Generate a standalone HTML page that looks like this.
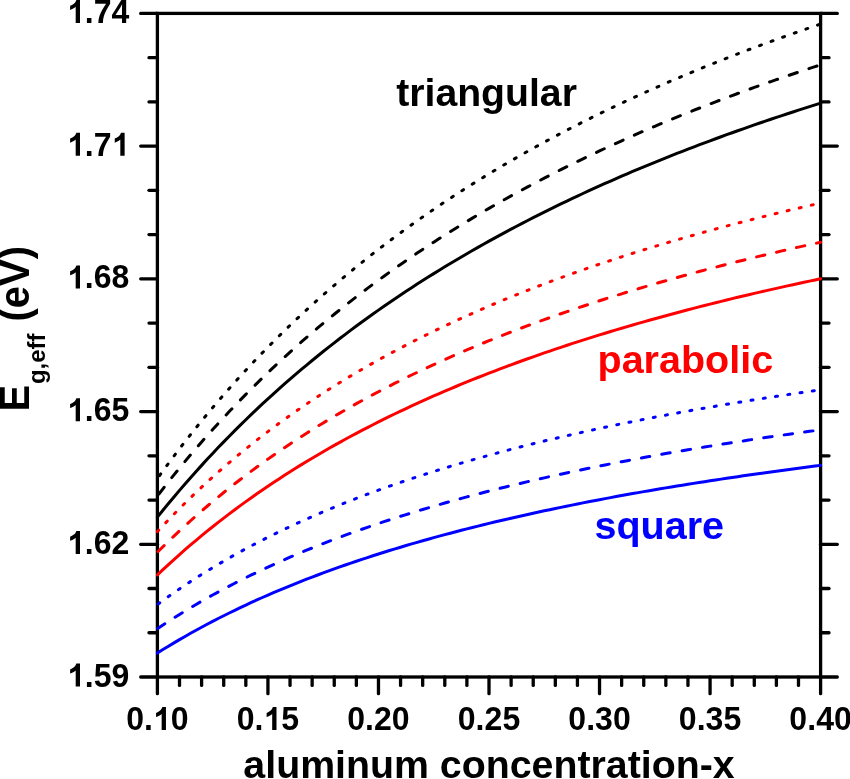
<!DOCTYPE html>
<html><head><meta charset="utf-8"><style>
html,body{margin:0;padding:0;background:#fff;}
body{width:850px;height:779px;overflow:hidden;}
svg{display:block;will-change:transform;}
text{font-family:"Liberation Sans",sans-serif;font-weight:bold;}
</style></head><body>
<svg width="850" height="779" viewBox="0 0 850 779">
<rect width="850" height="779" fill="#fff"/>
<g stroke="#000" stroke-width="3.3" stroke-linecap="round">
<line x1="157.40" y1="677.00" x2="157.40" y2="693.70"/>
<line x1="179.51" y1="677.00" x2="179.51" y2="685.40"/>
<line x1="201.61" y1="677.00" x2="201.61" y2="685.40"/>
<line x1="223.72" y1="677.00" x2="223.72" y2="685.40"/>
<line x1="245.83" y1="677.00" x2="245.83" y2="685.40"/>
<line x1="267.93" y1="677.00" x2="267.93" y2="693.70"/>
<line x1="290.04" y1="677.00" x2="290.04" y2="685.40"/>
<line x1="312.15" y1="677.00" x2="312.15" y2="685.40"/>
<line x1="334.25" y1="677.00" x2="334.25" y2="685.40"/>
<line x1="356.36" y1="677.00" x2="356.36" y2="685.40"/>
<line x1="378.47" y1="677.00" x2="378.47" y2="693.70"/>
<line x1="400.57" y1="677.00" x2="400.57" y2="685.40"/>
<line x1="422.68" y1="677.00" x2="422.68" y2="685.40"/>
<line x1="444.79" y1="677.00" x2="444.79" y2="685.40"/>
<line x1="466.89" y1="677.00" x2="466.89" y2="685.40"/>
<line x1="489.00" y1="677.00" x2="489.00" y2="693.70"/>
<line x1="511.11" y1="677.00" x2="511.11" y2="685.40"/>
<line x1="533.21" y1="677.00" x2="533.21" y2="685.40"/>
<line x1="555.32" y1="677.00" x2="555.32" y2="685.40"/>
<line x1="577.43" y1="677.00" x2="577.43" y2="685.40"/>
<line x1="599.53" y1="677.00" x2="599.53" y2="693.70"/>
<line x1="621.64" y1="677.00" x2="621.64" y2="685.40"/>
<line x1="643.75" y1="677.00" x2="643.75" y2="685.40"/>
<line x1="665.85" y1="677.00" x2="665.85" y2="685.40"/>
<line x1="687.96" y1="677.00" x2="687.96" y2="685.40"/>
<line x1="710.07" y1="677.00" x2="710.07" y2="693.70"/>
<line x1="732.17" y1="677.00" x2="732.17" y2="685.40"/>
<line x1="754.28" y1="677.00" x2="754.28" y2="685.40"/>
<line x1="776.39" y1="677.00" x2="776.39" y2="685.40"/>
<line x1="798.49" y1="677.00" x2="798.49" y2="685.40"/>
<line x1="820.60" y1="677.00" x2="820.60" y2="693.70"/>
<line x1="157.40" y1="677.00" x2="140.70" y2="677.00"/>
<line x1="820.60" y1="677.00" x2="837.30" y2="677.00"/>
<line x1="157.40" y1="632.76" x2="149.00" y2="632.76"/>
<line x1="820.60" y1="632.76" x2="829.00" y2="632.76"/>
<line x1="157.40" y1="588.52" x2="149.00" y2="588.52"/>
<line x1="820.60" y1="588.52" x2="829.00" y2="588.52"/>
<line x1="157.40" y1="544.28" x2="140.70" y2="544.28"/>
<line x1="820.60" y1="544.28" x2="837.30" y2="544.28"/>
<line x1="157.40" y1="500.04" x2="149.00" y2="500.04"/>
<line x1="820.60" y1="500.04" x2="829.00" y2="500.04"/>
<line x1="157.40" y1="455.80" x2="149.00" y2="455.80"/>
<line x1="820.60" y1="455.80" x2="829.00" y2="455.80"/>
<line x1="157.40" y1="411.56" x2="140.70" y2="411.56"/>
<line x1="820.60" y1="411.56" x2="837.30" y2="411.56"/>
<line x1="157.40" y1="367.32" x2="149.00" y2="367.32"/>
<line x1="820.60" y1="367.32" x2="829.00" y2="367.32"/>
<line x1="157.40" y1="323.08" x2="149.00" y2="323.08"/>
<line x1="820.60" y1="323.08" x2="829.00" y2="323.08"/>
<line x1="157.40" y1="278.84" x2="140.70" y2="278.84"/>
<line x1="820.60" y1="278.84" x2="837.30" y2="278.84"/>
<line x1="157.40" y1="234.60" x2="149.00" y2="234.60"/>
<line x1="820.60" y1="234.60" x2="829.00" y2="234.60"/>
<line x1="157.40" y1="190.36" x2="149.00" y2="190.36"/>
<line x1="820.60" y1="190.36" x2="829.00" y2="190.36"/>
<line x1="157.40" y1="146.12" x2="140.70" y2="146.12"/>
<line x1="820.60" y1="146.12" x2="837.30" y2="146.12"/>
<line x1="157.40" y1="101.88" x2="149.00" y2="101.88"/>
<line x1="820.60" y1="101.88" x2="829.00" y2="101.88"/>
<line x1="157.40" y1="57.64" x2="149.00" y2="57.64"/>
<line x1="820.60" y1="57.64" x2="829.00" y2="57.64"/>
<line x1="157.40" y1="13.40" x2="140.70" y2="13.40"/>
<line x1="820.60" y1="13.40" x2="837.30" y2="13.40"/>
</g>
<rect x="157.40" y="13.40" width="663.20" height="663.60" fill="none" stroke="#000" stroke-width="3.3"/>
<g fill="none" stroke-width="3" stroke-linecap="round" stroke-linejoin="round">
<path d="M157.40,478.53 L162.93,470.89 L168.45,463.38 L173.98,456.00 L179.51,448.74 L185.03,441.60 L190.56,434.58 L196.09,427.67 L201.61,420.87 L207.14,414.18 L212.67,407.60 L218.19,401.12 L223.72,394.75 L229.25,388.47 L234.77,382.29 L240.30,376.20 L245.83,370.20 L251.35,364.30 L256.88,358.48 L262.41,352.75 L267.93,347.10 L273.46,341.54 L278.99,336.06 L284.51,330.65 L290.04,325.32 L295.57,320.07 L301.09,314.89 L306.62,309.79 L312.15,304.75 L317.67,299.79 L323.20,294.89 L328.73,290.06 L334.25,285.29 L339.78,280.59 L345.31,275.95 L350.83,271.38 L356.36,266.86 L361.89,262.40 L367.41,258.00 L372.94,253.66 L378.47,249.37 L383.99,245.14 L389.52,240.96 L395.05,236.83 L400.57,232.76 L406.10,228.73 L411.63,224.76 L417.15,220.83 L422.68,216.95 L428.21,213.12 L433.73,209.33 L439.26,205.59 L444.79,201.90 L450.31,198.25 L455.84,194.64 L461.37,191.07 L466.89,187.55 L472.42,184.06 L477.95,180.62 L483.47,177.21 L489.00,173.85 L494.53,170.52 L500.05,167.23 L505.58,163.97 L511.11,160.75 L516.63,157.57 L522.16,154.42 L527.69,151.31 L533.21,148.23 L538.74,145.19 L544.27,142.17 L549.79,139.19 L555.32,136.24 L560.85,133.32 L566.37,130.44 L571.90,127.58 L577.43,124.75 L582.95,121.95 L588.48,119.18 L594.01,116.44 L599.53,113.73 L605.06,111.04 L610.59,108.39 L616.11,105.75 L621.64,103.15 L627.17,100.57 L632.69,98.02 L638.22,95.49 L643.75,92.98 L649.27,90.50 L654.80,88.05 L660.33,85.62 L665.85,83.21 L671.38,80.82 L676.91,78.46 L682.43,76.12 L687.96,73.80 L693.49,71.51 L699.01,69.23 L704.54,66.98 L710.07,64.75 L715.59,62.53 L721.12,60.34 L726.65,58.17 L732.17,56.02 L737.70,53.88 L743.23,51.77 L748.75,49.68 L754.28,47.60 L759.81,45.54 L765.33,43.50 L770.86,41.48 L776.39,39.48 L781.91,37.49 L787.44,35.52 L792.97,33.57 L798.49,31.64 L804.02,29.72 L809.55,27.82 L815.07,25.93 L820.60,24.06" stroke="#000" stroke-dasharray="2.0 10.290" stroke-dashoffset="-3.66"/>
<path d="M157.40,495.97 L162.93,488.83 L168.45,481.81 L173.98,474.90 L179.51,468.11 L185.03,461.42 L190.56,454.84 L196.09,448.37 L201.61,441.99 L207.14,435.72 L212.67,429.54 L218.19,423.46 L223.72,417.47 L229.25,411.57 L234.77,405.75 L240.30,400.03 L245.83,394.39 L251.35,388.83 L256.88,383.35 L262.41,377.95 L267.93,372.63 L273.46,367.38 L278.99,362.21 L284.51,357.11 L290.04,352.09 L295.57,347.13 L301.09,342.24 L306.62,337.41 L312.15,332.65 L317.67,327.96 L323.20,323.33 L328.73,318.76 L334.25,314.25 L339.78,309.80 L345.31,305.40 L350.83,301.07 L356.36,296.79 L361.89,292.56 L367.41,288.39 L372.94,284.27 L378.47,280.20 L383.99,276.19 L389.52,272.22 L395.05,268.30 L400.57,264.43 L406.10,260.61 L411.63,256.83 L417.15,253.10 L422.68,249.41 L428.21,245.77 L433.73,242.17 L439.26,238.61 L444.79,235.09 L450.31,231.61 L455.84,228.18 L461.37,224.78 L466.89,221.42 L472.42,218.10 L477.95,214.82 L483.47,211.57 L489.00,208.36 L494.53,205.19 L500.05,202.05 L505.58,198.94 L511.11,195.87 L516.63,192.83 L522.16,189.83 L527.69,186.86 L533.21,183.92 L538.74,181.01 L544.27,178.13 L549.79,175.28 L555.32,172.46 L560.85,169.67 L566.37,166.91 L571.90,164.17 L577.43,161.47 L582.95,158.79 L588.48,156.14 L594.01,153.52 L599.53,150.92 L605.06,148.35 L610.59,145.80 L616.11,143.28 L621.64,140.78 L627.17,138.31 L632.69,135.86 L638.22,133.44 L643.75,131.04 L649.27,128.66 L654.80,126.31 L660.33,123.97 L665.85,121.66 L671.38,119.38 L676.91,117.11 L682.43,114.86 L687.96,112.64 L693.49,110.43 L699.01,108.25 L704.54,106.08 L710.07,103.94 L715.59,101.81 L721.12,99.71 L726.65,97.62 L732.17,95.55 L737.70,93.50 L743.23,91.47 L748.75,89.45 L754.28,87.46 L759.81,85.48 L765.33,83.52 L770.86,81.57 L776.39,79.64 L781.91,77.73 L787.44,75.84 L792.97,73.96 L798.49,72.10 L804.02,70.25 L809.55,68.42 L815.07,66.60 L820.60,64.80" stroke="#000" stroke-dasharray="8.5 12.265" stroke-dashoffset="-2.49"/>
<path d="M157.40,517.11 L162.93,510.27 L168.45,503.54 L173.98,496.92 L179.51,490.40 L185.03,483.99 L190.56,477.69 L196.09,471.48 L201.61,465.37 L207.14,459.35 L212.67,453.43 L218.19,447.59 L223.72,441.85 L229.25,436.19 L234.77,430.61 L240.30,425.12 L245.83,419.71 L251.35,414.38 L256.88,409.13 L262.41,403.95 L267.93,398.84 L273.46,393.81 L278.99,388.85 L284.51,383.95 L290.04,379.13 L295.57,374.37 L301.09,369.68 L306.62,365.05 L312.15,360.48 L317.67,355.98 L323.20,351.53 L328.73,347.15 L334.25,342.82 L339.78,338.55 L345.31,334.33 L350.83,330.17 L356.36,326.06 L361.89,322.00 L367.41,318.00 L372.94,314.04 L378.47,310.14 L383.99,306.28 L389.52,302.47 L395.05,298.71 L400.57,294.99 L406.10,291.32 L411.63,287.70 L417.15,284.11 L422.68,280.57 L428.21,277.07 L433.73,273.61 L439.26,270.20 L444.79,266.82 L450.31,263.48 L455.84,260.18 L461.37,256.92 L466.89,253.69 L472.42,250.50 L477.95,247.35 L483.47,244.23 L489.00,241.15 L494.53,238.10 L500.05,235.08 L505.58,232.10 L511.11,229.15 L516.63,226.23 L522.16,223.34 L527.69,220.48 L533.21,217.66 L538.74,214.86 L544.27,212.10 L549.79,209.36 L555.32,206.65 L560.85,203.97 L566.37,201.31 L571.90,198.69 L577.43,196.09 L582.95,193.51 L588.48,190.97 L594.01,188.45 L599.53,185.95 L605.06,183.48 L610.59,181.03 L616.11,178.61 L621.64,176.21 L627.17,173.83 L632.69,171.48 L638.22,169.15 L643.75,166.84 L649.27,164.56 L654.80,162.29 L660.33,160.05 L665.85,157.83 L671.38,155.63 L676.91,153.45 L682.43,151.29 L687.96,149.15 L693.49,147.03 L699.01,144.93 L704.54,142.85 L710.07,140.79 L715.59,138.74 L721.12,136.72 L726.65,134.71 L732.17,132.72 L737.70,130.75 L743.23,128.80 L748.75,126.86 L754.28,124.94 L759.81,123.04 L765.33,121.15 L770.86,119.28 L776.39,117.43 L781.91,115.59 L787.44,113.77 L792.97,111.96 L798.49,110.17 L804.02,108.39 L809.55,106.63 L815.07,104.89 L820.60,103.15" stroke="#000" />
<path d="M157.40,531.58 L162.93,525.65 L168.45,519.83 L173.98,514.13 L179.51,508.53 L185.03,503.05 L190.56,497.66 L196.09,492.37 L201.61,487.18 L207.14,482.09 L212.67,477.08 L218.19,472.17 L223.72,467.34 L229.25,462.60 L234.77,457.94 L240.30,453.36 L245.83,448.85 L251.35,444.43 L256.88,440.08 L262.41,435.80 L267.93,431.59 L273.46,427.45 L278.99,423.38 L284.51,419.37 L290.04,415.43 L295.57,411.55 L301.09,407.73 L306.62,403.97 L312.15,400.27 L317.67,396.62 L323.20,393.04 L328.73,389.50 L334.25,386.02 L339.78,382.59 L345.31,379.21 L350.83,375.88 L356.36,372.60 L361.89,369.37 L367.41,366.18 L372.94,363.04 L378.47,359.95 L383.99,356.90 L389.52,353.89 L395.05,350.92 L400.57,347.99 L406.10,345.10 L411.63,342.25 L417.15,339.45 L422.68,336.67 L428.21,333.94 L433.73,331.24 L439.26,328.58 L444.79,325.95 L450.31,323.35 L455.84,320.79 L461.37,318.27 L466.89,315.77 L472.42,313.31 L477.95,310.87 L483.47,308.47 L489.00,306.10 L494.53,303.75 L500.05,301.44 L505.58,299.15 L511.11,296.89 L516.63,294.66 L522.16,292.45 L527.69,290.28 L533.21,288.12 L538.74,285.99 L544.27,283.89 L549.79,281.81 L555.32,279.76 L560.85,277.73 L566.37,275.72 L571.90,273.74 L577.43,271.77 L582.95,269.83 L588.48,267.91 L594.01,266.02 L599.53,264.14 L605.06,262.28 L610.59,260.45 L616.11,258.63 L621.64,256.84 L627.17,255.06 L632.69,253.30 L638.22,251.56 L643.75,249.84 L649.27,248.14 L654.80,246.45 L660.33,244.79 L665.85,243.14 L671.38,241.50 L676.91,239.89 L682.43,238.29 L687.96,236.71 L693.49,235.14 L699.01,233.59 L704.54,232.05 L710.07,230.53 L715.59,229.02 L721.12,227.53 L726.65,226.06 L732.17,224.59 L737.70,223.15 L743.23,221.71 L748.75,220.29 L754.28,218.89 L759.81,217.49 L765.33,216.11 L770.86,214.75 L776.39,213.39 L781.91,212.05 L787.44,210.72 L792.97,209.40 L798.49,208.10 L804.02,206.81 L809.55,205.53 L815.07,204.26 L820.60,203.00" stroke="#f00" stroke-dasharray="2.0 10.372" stroke-dashoffset="0.09"/>
<path d="M157.40,552.23 L162.93,546.73 L168.45,541.34 L173.98,536.05 L179.51,530.86 L185.03,525.76 L190.56,520.75 L196.09,515.84 L201.61,511.01 L207.14,506.26 L212.67,501.60 L218.19,497.02 L223.72,492.52 L229.25,488.09 L234.77,483.74 L240.30,479.47 L245.83,475.26 L251.35,471.12 L256.88,467.05 L262.41,463.04 L267.93,459.10 L273.46,455.23 L278.99,451.41 L284.51,447.65 L290.04,443.95 L295.57,440.31 L301.09,436.73 L306.62,433.20 L312.15,429.72 L317.67,426.29 L323.20,422.92 L328.73,419.59 L334.25,416.31 L339.78,413.09 L345.31,409.90 L350.83,406.77 L356.36,403.67 L361.89,400.63 L367.41,397.62 L372.94,394.66 L378.47,391.73 L383.99,388.85 L389.52,386.01 L395.05,383.20 L400.57,380.44 L406.10,377.71 L411.63,375.01 L417.15,372.35 L422.68,369.73 L428.21,367.14 L433.73,364.58 L439.26,362.06 L444.79,359.57 L450.31,357.11 L455.84,354.68 L461.37,352.29 L466.89,349.92 L472.42,347.58 L477.95,345.27 L483.47,342.99 L489.00,340.73 L494.53,338.51 L500.05,336.31 L505.58,334.13 L511.11,331.98 L516.63,329.86 L522.16,327.76 L527.69,325.69 L533.21,323.64 L538.74,321.62 L544.27,319.61 L549.79,317.63 L555.32,315.68 L560.85,313.74 L566.37,311.83 L571.90,309.94 L577.43,308.06 L582.95,306.21 L588.48,304.38 L594.01,302.57 L599.53,300.78 L605.06,299.01 L610.59,297.26 L616.11,295.52 L621.64,293.81 L627.17,292.11 L632.69,290.43 L638.22,288.77 L643.75,287.12 L649.27,285.50 L654.80,283.88 L660.33,282.29 L665.85,280.71 L671.38,279.15 L676.91,277.60 L682.43,276.07 L687.96,274.56 L693.49,273.05 L699.01,271.57 L704.54,270.10 L710.07,268.64 L715.59,267.20 L721.12,265.77 L726.65,264.35 L732.17,262.95 L737.70,261.56 L743.23,260.19 L748.75,258.82 L754.28,257.48 L759.81,256.14 L765.33,254.81 L770.86,253.50 L776.39,252.20 L781.91,250.91 L787.44,249.64 L792.97,248.37 L798.49,247.12 L804.02,245.88 L809.55,244.65 L815.07,243.43 L820.60,242.22" stroke="#f00" stroke-dasharray="8.5 11.977" stroke-dashoffset="-0.98"/>
<path d="M157.40,574.91 L162.93,569.69 L168.45,564.56 L173.98,559.52 L179.51,554.58 L185.03,549.73 L190.56,544.97 L196.09,540.29 L201.61,535.69 L207.14,531.17 L212.67,526.73 L218.19,522.37 L223.72,518.08 L229.25,513.86 L234.77,509.72 L240.30,505.64 L245.83,501.63 L251.35,497.68 L256.88,493.80 L262.41,489.98 L267.93,486.23 L273.46,482.53 L278.99,478.89 L284.51,475.30 L290.04,471.78 L295.57,468.30 L301.09,464.88 L306.62,461.51 L312.15,458.19 L317.67,454.92 L323.20,451.70 L328.73,448.53 L334.25,445.40 L339.78,442.32 L345.31,439.28 L350.83,436.28 L356.36,433.33 L361.89,430.42 L367.41,427.55 L372.94,424.71 L378.47,421.92 L383.99,419.17 L389.52,416.45 L395.05,413.77 L400.57,411.13 L406.10,408.52 L411.63,405.94 L417.15,403.40 L422.68,400.89 L428.21,398.42 L433.73,395.97 L439.26,393.56 L444.79,391.18 L450.31,388.83 L455.84,386.50 L461.37,384.21 L466.89,381.95 L472.42,379.71 L477.95,377.50 L483.47,375.32 L489.00,373.16 L494.53,371.03 L500.05,368.92 L505.58,366.84 L511.11,364.79 L516.63,362.76 L522.16,360.75 L527.69,358.76 L533.21,356.80 L538.74,354.86 L544.27,352.95 L549.79,351.05 L555.32,349.18 L560.85,347.32 L566.37,345.49 L571.90,343.68 L577.43,341.89 L582.95,340.11 L588.48,338.36 L594.01,336.63 L599.53,334.91 L605.06,333.21 L610.59,331.54 L616.11,329.87 L621.64,328.23 L627.17,326.60 L632.69,325.00 L638.22,323.40 L643.75,321.83 L649.27,320.27 L654.80,318.72 L660.33,317.19 L665.85,315.68 L671.38,314.18 L676.91,312.70 L682.43,311.23 L687.96,309.78 L693.49,308.34 L699.01,306.92 L704.54,305.51 L710.07,304.11 L715.59,302.73 L721.12,301.36 L726.65,300.00 L732.17,298.65 L737.70,297.32 L743.23,296.00 L748.75,294.70 L754.28,293.40 L759.81,292.12 L765.33,290.85 L770.86,289.59 L776.39,288.35 L781.91,287.11 L787.44,285.89 L792.97,284.67 L798.49,283.47 L804.02,282.28 L809.55,281.10 L815.07,279.93 L820.60,278.77" stroke="#f00" />
<path d="M157.40,604.55 L162.93,600.51 L168.45,596.56 L173.98,592.68 L179.51,588.89 L185.03,585.17 L190.56,581.53 L196.09,577.96 L201.61,574.46 L207.14,571.03 L212.67,567.67 L218.19,564.37 L223.72,561.13 L229.25,557.95 L234.77,554.83 L240.30,551.77 L245.83,548.77 L251.35,545.81 L256.88,542.92 L262.41,540.07 L267.93,537.27 L273.46,534.53 L278.99,531.82 L284.51,529.17 L290.04,526.56 L295.57,524.00 L301.09,521.48 L306.62,519.00 L312.15,516.56 L317.67,514.16 L323.20,511.80 L328.73,509.47 L334.25,507.19 L339.78,504.94 L345.31,502.72 L350.83,500.54 L356.36,498.40 L361.89,496.28 L367.41,494.20 L372.94,492.15 L378.47,490.13 L383.99,488.14 L389.52,486.18 L395.05,484.25 L400.57,482.35 L406.10,480.47 L411.63,478.62 L417.15,476.80 L422.68,475.00 L428.21,473.23 L433.73,471.48 L439.26,469.76 L444.79,468.06 L450.31,466.38 L455.84,464.73 L461.37,463.10 L466.89,461.49 L472.42,459.90 L477.95,458.33 L483.47,456.79 L489.00,455.26 L494.53,453.76 L500.05,452.27 L505.58,450.80 L511.11,449.35 L516.63,447.92 L522.16,446.50 L527.69,445.11 L533.21,443.73 L538.74,442.37 L544.27,441.02 L549.79,439.69 L555.32,438.38 L560.85,437.09 L566.37,435.80 L571.90,434.54 L577.43,433.29 L582.95,432.05 L588.48,430.83 L594.01,429.62 L599.53,428.43 L605.06,427.24 L610.59,426.08 L616.11,424.92 L621.64,423.78 L627.17,422.66 L632.69,421.54 L638.22,420.44 L643.75,419.35 L649.27,418.27 L654.80,417.20 L660.33,416.14 L665.85,415.10 L671.38,414.07 L676.91,413.04 L682.43,412.03 L687.96,411.03 L693.49,410.04 L699.01,409.06 L704.54,408.09 L710.07,407.13 L715.59,406.18 L721.12,405.24 L726.65,404.31 L732.17,403.39 L737.70,402.48 L743.23,401.58 L748.75,400.68 L754.28,399.80 L759.81,398.92 L765.33,398.05 L770.86,397.20 L776.39,396.34 L781.91,395.50 L787.44,394.67 L792.97,393.84 L798.49,393.02 L804.02,392.21 L809.55,391.41 L815.07,390.61 L820.60,389.83" stroke="#00f" stroke-dasharray="2.0 10.403" stroke-dashoffset="-0.99"/>
<path d="M157.40,628.74 L162.93,625.05 L168.45,621.44 L173.98,617.91 L179.51,614.44 L185.03,611.04 L190.56,607.71 L196.09,604.44 L201.61,601.24 L207.14,598.09 L212.67,595.01 L218.19,591.98 L223.72,589.01 L229.25,586.09 L234.77,583.23 L240.30,580.42 L245.83,577.66 L251.35,574.94 L256.88,572.28 L262.41,569.66 L267.93,567.08 L273.46,564.55 L278.99,562.06 L284.51,559.62 L290.04,557.21 L295.57,554.85 L301.09,552.52 L306.62,550.23 L312.15,547.98 L317.67,545.76 L323.20,543.58 L328.73,541.43 L334.25,539.32 L339.78,537.24 L345.31,535.19 L350.83,533.17 L356.36,531.18 L361.89,529.23 L367.41,527.30 L372.94,525.40 L378.47,523.53 L383.99,521.68 L389.52,519.86 L395.05,518.07 L400.57,516.30 L406.10,514.56 L411.63,512.85 L417.15,511.15 L422.68,509.48 L428.21,507.84 L433.73,506.21 L439.26,504.61 L444.79,503.03 L450.31,501.47 L455.84,499.94 L461.37,498.42 L466.89,496.92 L472.42,495.44 L477.95,493.98 L483.47,492.54 L489.00,491.12 L494.53,489.72 L500.05,488.33 L505.58,486.96 L511.11,485.61 L516.63,484.27 L522.16,482.96 L527.69,481.65 L533.21,480.37 L538.74,479.10 L544.27,477.84 L549.79,476.60 L555.32,475.37 L560.85,474.16 L566.37,472.96 L571.90,471.78 L577.43,470.61 L582.95,469.46 L588.48,468.31 L594.01,467.18 L599.53,466.07 L605.06,464.96 L610.59,463.87 L616.11,462.79 L621.64,461.72 L627.17,460.67 L632.69,459.62 L638.22,458.59 L643.75,457.57 L649.27,456.56 L654.80,455.56 L660.33,454.57 L665.85,453.59 L671.38,452.62 L676.91,451.66 L682.43,450.72 L687.96,449.78 L693.49,448.85 L699.01,447.93 L704.54,447.02 L710.07,446.12 L715.59,445.23 L721.12,444.35 L726.65,443.47 L732.17,442.61 L737.70,441.75 L743.23,440.91 L748.75,440.07 L754.28,439.24 L759.81,438.41 L765.33,437.60 L770.86,436.79 L776.39,435.99 L781.91,435.20 L787.44,434.42 L792.97,433.64 L798.49,432.87 L804.02,432.11 L809.55,431.35 L815.07,430.61 L820.60,429.86" stroke="#00f" stroke-dasharray="8.5 12.155" stroke-dashoffset="-0.41"/>
<path d="M157.40,653.05 L162.93,649.59 L168.45,646.20 L173.98,642.88 L179.51,639.62 L185.03,636.43 L190.56,633.30 L196.09,630.23 L201.61,627.22 L207.14,624.26 L212.67,621.36 L218.19,618.51 L223.72,615.72 L229.25,612.97 L234.77,610.28 L240.30,607.63 L245.83,605.03 L251.35,602.48 L256.88,599.97 L262.41,597.50 L267.93,595.08 L273.46,592.69 L278.99,590.35 L284.51,588.04 L290.04,585.78 L295.57,583.55 L301.09,581.35 L306.62,579.20 L312.15,577.07 L317.67,574.98 L323.20,572.93 L328.73,570.90 L334.25,568.91 L339.78,566.94 L345.31,565.01 L350.83,563.11 L356.36,561.23 L361.89,559.39 L367.41,557.57 L372.94,555.77 L378.47,554.01 L383.99,552.27 L389.52,550.55 L395.05,548.86 L400.57,547.19 L406.10,545.54 L411.63,543.92 L417.15,542.32 L422.68,540.75 L428.21,539.19 L433.73,537.66 L439.26,536.15 L444.79,534.65 L450.31,533.18 L455.84,531.72 L461.37,530.29 L466.89,528.87 L472.42,527.48 L477.95,526.10 L483.47,524.74 L489.00,523.39 L494.53,522.06 L500.05,520.75 L505.58,519.46 L511.11,518.18 L516.63,516.92 L522.16,515.67 L527.69,514.44 L533.21,513.22 L538.74,512.02 L544.27,510.83 L549.79,509.66 L555.32,508.50 L560.85,507.35 L566.37,506.22 L571.90,505.10 L577.43,503.99 L582.95,502.90 L588.48,501.82 L594.01,500.75 L599.53,499.69 L605.06,498.64 L610.59,497.61 L616.11,496.59 L621.64,495.58 L627.17,494.58 L632.69,493.59 L638.22,492.61 L643.75,491.64 L649.27,490.68 L654.80,489.74 L660.33,488.80 L665.85,487.87 L671.38,486.96 L676.91,486.05 L682.43,485.15 L687.96,484.26 L693.49,483.38 L699.01,482.51 L704.54,481.65 L710.07,480.80 L715.59,479.95 L721.12,479.11 L726.65,478.29 L732.17,477.47 L737.70,476.66 L743.23,475.85 L748.75,475.06 L754.28,474.27 L759.81,473.49 L765.33,472.72 L770.86,471.95 L776.39,471.19 L781.91,470.44 L787.44,469.70 L792.97,468.96 L798.49,468.23 L804.02,467.51 L809.55,466.79 L815.07,466.09 L820.60,465.38" stroke="#00f" />
</g>
<g fill="#000">
<path d="M 831 0 L 556 0 L 556 1030 C 460 940 340 875 201 835 L 201 1095 C 280 1120 360 1165 440 1230 C 520 1295 575 1380 600 1466 L 831 1466 Z" transform="translate(66.97,686.60) scale(0.015674,-0.015674)"/>
<text transform="translate(84.83,686.60) scale(1,1.04)" font-size="32.0">.</text>
<text transform="translate(93.75,686.60) scale(1,1.04)" font-size="32.0">5</text>
<text transform="translate(111.60,686.60) scale(1,1.04)" font-size="32.0">9</text>
<path d="M 831 0 L 556 0 L 556 1030 C 460 940 340 875 201 835 L 201 1095 C 280 1120 360 1165 440 1230 C 520 1295 575 1380 600 1466 L 831 1466 Z" transform="translate(66.97,553.88) scale(0.015674,-0.015674)"/>
<text transform="translate(84.83,553.88) scale(1,1.04)" font-size="32.0">.</text>
<text transform="translate(93.75,553.88) scale(1,1.04)" font-size="32.0">6</text>
<text transform="translate(111.60,553.88) scale(1,1.04)" font-size="32.0">2</text>
<path d="M 831 0 L 556 0 L 556 1030 C 460 940 340 875 201 835 L 201 1095 C 280 1120 360 1165 440 1230 C 520 1295 575 1380 600 1466 L 831 1466 Z" transform="translate(66.97,421.16) scale(0.015674,-0.015674)"/>
<text transform="translate(84.83,421.16) scale(1,1.04)" font-size="32.0">.</text>
<text transform="translate(93.75,421.16) scale(1,1.04)" font-size="32.0">6</text>
<text transform="translate(111.60,421.16) scale(1,1.04)" font-size="32.0">5</text>
<path d="M 831 0 L 556 0 L 556 1030 C 460 940 340 875 201 835 L 201 1095 C 280 1120 360 1165 440 1230 C 520 1295 575 1380 600 1466 L 831 1466 Z" transform="translate(66.97,288.44) scale(0.015674,-0.015674)"/>
<text transform="translate(84.83,288.44) scale(1,1.04)" font-size="32.0">.</text>
<text transform="translate(93.75,288.44) scale(1,1.04)" font-size="32.0">6</text>
<text transform="translate(111.60,288.44) scale(1,1.04)" font-size="32.0">8</text>
<path d="M 831 0 L 556 0 L 556 1030 C 460 940 340 875 201 835 L 201 1095 C 280 1120 360 1165 440 1230 C 520 1295 575 1380 600 1466 L 831 1466 Z" transform="translate(66.97,155.72) scale(0.015674,-0.015674)"/>
<text transform="translate(84.83,155.72) scale(1,1.04)" font-size="32.0">.</text>
<text transform="translate(93.75,155.72) scale(1,1.04)" font-size="32.0">7</text>
<path d="M 831 0 L 556 0 L 556 1030 C 460 940 340 875 201 835 L 201 1095 C 280 1120 360 1165 440 1230 C 520 1295 575 1380 600 1466 L 831 1466 Z" transform="translate(111.60,155.72) scale(0.015674,-0.015674)"/>
<path d="M 831 0 L 556 0 L 556 1030 C 460 940 340 875 201 835 L 201 1095 C 280 1120 360 1165 440 1230 C 520 1295 575 1380 600 1466 L 831 1466 Z" transform="translate(66.97,23.00) scale(0.015674,-0.015674)"/>
<text transform="translate(84.83,23.00) scale(1,1.04)" font-size="32.0">.</text>
<text transform="translate(93.75,23.00) scale(1,1.04)" font-size="32.0">7</text>
<text transform="translate(111.60,23.00) scale(1,1.04)" font-size="32.0">4</text>
<text transform="translate(126.16,730.10) scale(1,1.04)" font-size="32.0">0</text>
<text transform="translate(144.01,730.10) scale(1,1.04)" font-size="32.0">.</text>
<path d="M 831 0 L 556 0 L 556 1030 C 460 940 340 875 201 835 L 201 1095 C 280 1120 360 1165 440 1230 C 520 1295 575 1380 600 1466 L 831 1466 Z" transform="translate(152.93,730.10) scale(0.015674,-0.015674)"/>
<text transform="translate(170.79,730.10) scale(1,1.04)" font-size="32.0">0</text>
<text transform="translate(236.70,730.10) scale(1,1.04)" font-size="32.0">0</text>
<text transform="translate(254.55,730.10) scale(1,1.04)" font-size="32.0">.</text>
<path d="M 831 0 L 556 0 L 556 1030 C 460 940 340 875 201 835 L 201 1095 C 280 1120 360 1165 440 1230 C 520 1295 575 1380 600 1466 L 831 1466 Z" transform="translate(263.47,730.10) scale(0.015674,-0.015674)"/>
<text transform="translate(281.32,730.10) scale(1,1.04)" font-size="32.0">5</text>
<text transform="translate(347.23,730.10) scale(1,1.04)" font-size="32.0">0</text>
<text transform="translate(365.08,730.10) scale(1,1.04)" font-size="32.0">.</text>
<text transform="translate(374.00,730.10) scale(1,1.04)" font-size="32.0">2</text>
<text transform="translate(391.85,730.10) scale(1,1.04)" font-size="32.0">0</text>
<text transform="translate(457.76,730.10) scale(1,1.04)" font-size="32.0">0</text>
<text transform="translate(475.61,730.10) scale(1,1.04)" font-size="32.0">.</text>
<text transform="translate(484.53,730.10) scale(1,1.04)" font-size="32.0">2</text>
<text transform="translate(502.39,730.10) scale(1,1.04)" font-size="32.0">5</text>
<text transform="translate(568.30,730.10) scale(1,1.04)" font-size="32.0">0</text>
<text transform="translate(586.15,730.10) scale(1,1.04)" font-size="32.0">.</text>
<text transform="translate(595.07,730.10) scale(1,1.04)" font-size="32.0">3</text>
<text transform="translate(612.92,730.10) scale(1,1.04)" font-size="32.0">0</text>
<text transform="translate(678.83,730.10) scale(1,1.04)" font-size="32.0">0</text>
<text transform="translate(696.68,730.10) scale(1,1.04)" font-size="32.0">.</text>
<text transform="translate(705.60,730.10) scale(1,1.04)" font-size="32.0">3</text>
<text transform="translate(723.45,730.10) scale(1,1.04)" font-size="32.0">5</text>
<text transform="translate(789.36,730.10) scale(1,1.04)" font-size="32.0">0</text>
<text transform="translate(807.21,730.10) scale(1,1.04)" font-size="32.0">.</text>
<text transform="translate(816.13,730.10) scale(1,1.04)" font-size="32.0">4</text>
<text transform="translate(833.99,730.10) scale(1,1.04)" font-size="32.0">0</text>
</g>
<text x="396.2" y="106.1" font-size="39.2" fill="#000">triangular</text>
<text x="597.5" y="373" font-size="39.5" fill="#f00">parabolic</text>
<text x="594.5" y="538.6" font-size="39.5" fill="#00f">square</text>
<text x="489" y="777.9" font-size="39.3" text-anchor="middle" fill="#000">aluminum concentration-x</text>
<text transform="translate(29,411.4) rotate(-90) scale(1,1.04)" font-size="40" fill="#000">E</text>
<text transform="translate(44.8,384.1) rotate(-90)" font-size="24" fill="#000">g,eff</text>
<text transform="translate(29,321.6) rotate(-90) scale(1,1.04)" font-size="40" fill="#000">(eV)</text>
</svg>
</body></html>
